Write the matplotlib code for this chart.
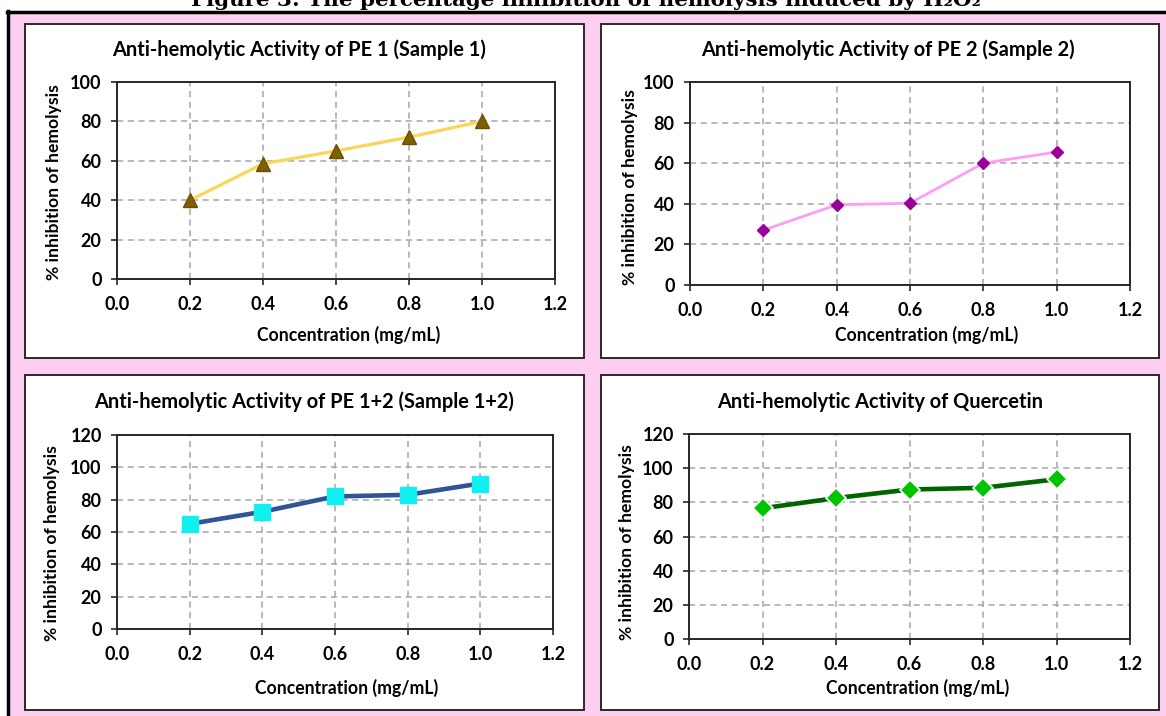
import matplotlib
matplotlib.use('Agg')
import matplotlib.pyplot as plt
from matplotlib.patches import Rectangle
from matplotlib.lines import Line2D

# 数据
conc = [0.2, 0.4, 0.6, 0.8, 1.0]
pe1 = [40, 58.5, 65, 72, 80]
pe2 = [27, 39.5, 40.3, 60, 65.5]
pe12 = [65, 72.5, 82, 83, 90]
quercetin = [76.5, 82.5, 87.5, 88.5, 93.5]

x_ticks = [0.0, 0.2, 0.4, 0.6, 0.8, 1.0, 1.2]
titles = ['Anti-hemolytic Activity of PE 1 (Sample 1)',
          'Anti-hemolytic Activity of PE 2 (Sample 2)',
          'Anti-hemolytic Activity of PE 1+2 (Sample 1+2)',
          'Anti-hemolytic Activity of Quercetin']
fig_title = 'Figure 3: The percentage inhibition of hemolysis induced by H\u2082O\u2082'
xlab = 'Concentration (mg/mL)'
ylab = '% inhibition of hemolysis'

W, H = 1166, 716
plt.rcParams['font.family'] = ['Lato', 'DejaVu Sans']
fig = plt.figure(figsize=(W / 100, H / 100), dpi=100, facecolor='white')


def fx(x):
    return x / W


def fy(y):
    return 1 - y / H


def box(x0, y0, x1, y1, **kw):
    fig.patches.append(Rectangle((fx(x0), fy(y1)), fx(x1 - x0), (y1 - y0) / H,
                                 transform=fig.transFigure, **kw))


# 粉色背景和黑框
box(9, 12, W + 5, H + 5, facecolor='#FCCEF0', edgecolor='none', zorder=0)
fig.lines.append(Line2D([fx(8), fx(8)], [fy(10.5), 0], transform=fig.transFigure,
                        color='black', lw=2.5, zorder=1))
fig.lines.append(Line2D([fx(6.8), 1], [fy(11.5), fy(11.5)], transform=fig.transFigure,
                        color='black', lw=2.5, zorder=1))

# 图题只露出下半部分（原图被裁切）
fig.text(fx(586), fy(6), fig_title, ha='center', va='baseline', fontsize=15.4,
         fontweight='bold', family=['DejaVu Serif', 'DejaVu Sans'])

panels = [
    # 白框, 坐标区, 标题/轴标签位置, 数据, 样式
    dict(frame=(25, 24, 584, 358), ax=(117, 82, 555, 279), ymax=100,
         title=(299, 50), xl=(349, 335), yl=(54, 182), y=pe1,
         line='#FBD55A', lw=2.3, marker='^', mfc='#7F6000', mec='#6B5000', ms=10, mew=1),
    dict(frame=(601, 24, 1159, 358), ax=(690, 82, 1130, 285), ymax=100,
         title=(888, 50), xl=(927, 335), yl=(630, 187), y=pe2,
         line='#FF9CF5', lw=2.0, marker='D', mfc='#990099', mec='#990099', ms=6.5, mew=1),
    dict(frame=(25, 375, 584, 710), ax=(117, 435, 553, 629), ymax=120,
         title=(304, 402), xl=(347, 688), yl=(52, 543), y=pe12,
         line='#2F5597', lw=3.3, marker='s', mfc='#10F0F0', mec='#10F0F0', ms=11, mew=1),
    dict(frame=(601, 375, 1159, 710), ax=(689, 434, 1130, 639), ymax=120,
         title=(880, 402), xl=(918, 688), yl=(627, 542), y=quercetin,
         line='#006400', lw=3.3, marker='D', mfc='#00C400', mec='white', ms=10, mew=1.2),
]

for i, p in enumerate(panels):
    x0, y0, x1, y1 = p['frame']
    box(x0, y0, x1, y1, facecolor='white', edgecolor='#1a1a1a', lw=1.3, zorder=2)

    l, t, r, b = p['ax']
    ax = fig.add_axes([fx(l), fy(b), fx(r - l), (b - t) / H], zorder=3)
    ax.set_facecolor('white')
    ax.plot(conc, p['y'], color=p['line'], lw=p['lw'], marker=p['marker'],
            mfc=p['mfc'], mec=p['mec'], ms=p['ms'], mew=p['mew'], zorder=4,
            solid_capstyle='butt')
    ax.set_xlim(0, 1.2)
    ax.set_ylim(0, p['ymax'])
    ax.set_xticks(x_ticks)
    ax.set_xticklabels([f'{v:.1f}' for v in x_ticks])
    ax.set_yticks(range(0, p['ymax'] + 1, 20))
    ax.grid(True, color='#A6A6A6', linestyle=(0, (4, 3)), lw=1.1)
    ax.set_axisbelow(True)
    for s in ax.spines.values():
        s.set_color('#262626')
        s.set_linewidth(1.4)
    ax.tick_params(axis='both', direction='out', length=4, width=1.2, color='#262626',
                   labelsize=13)
    ax.tick_params(axis='x', pad=8)
    ax.tick_params(axis='y', pad=7)
    for lab in ax.get_xticklabels() + ax.get_yticklabels():
        lab.set_fontweight('bold')

    fig.text(fx(p['title'][0]), fy(p['title'][1]), titles[i], ha='center', va='center',
             fontsize=14.4, fontweight='bold')
    fig.text(fx(p['xl'][0]), fy(p['xl'][1]), xlab, ha='center', va='center',
             fontsize=12.7, fontweight='bold')
    fig.text(fx(p['yl'][0]), fy(p['yl'][1]), ylab, ha='center', va='center',
             fontsize=12.6, fontweight='bold', rotation=90)

fig.savefig('out.png', dpi=100, facecolor='white')
